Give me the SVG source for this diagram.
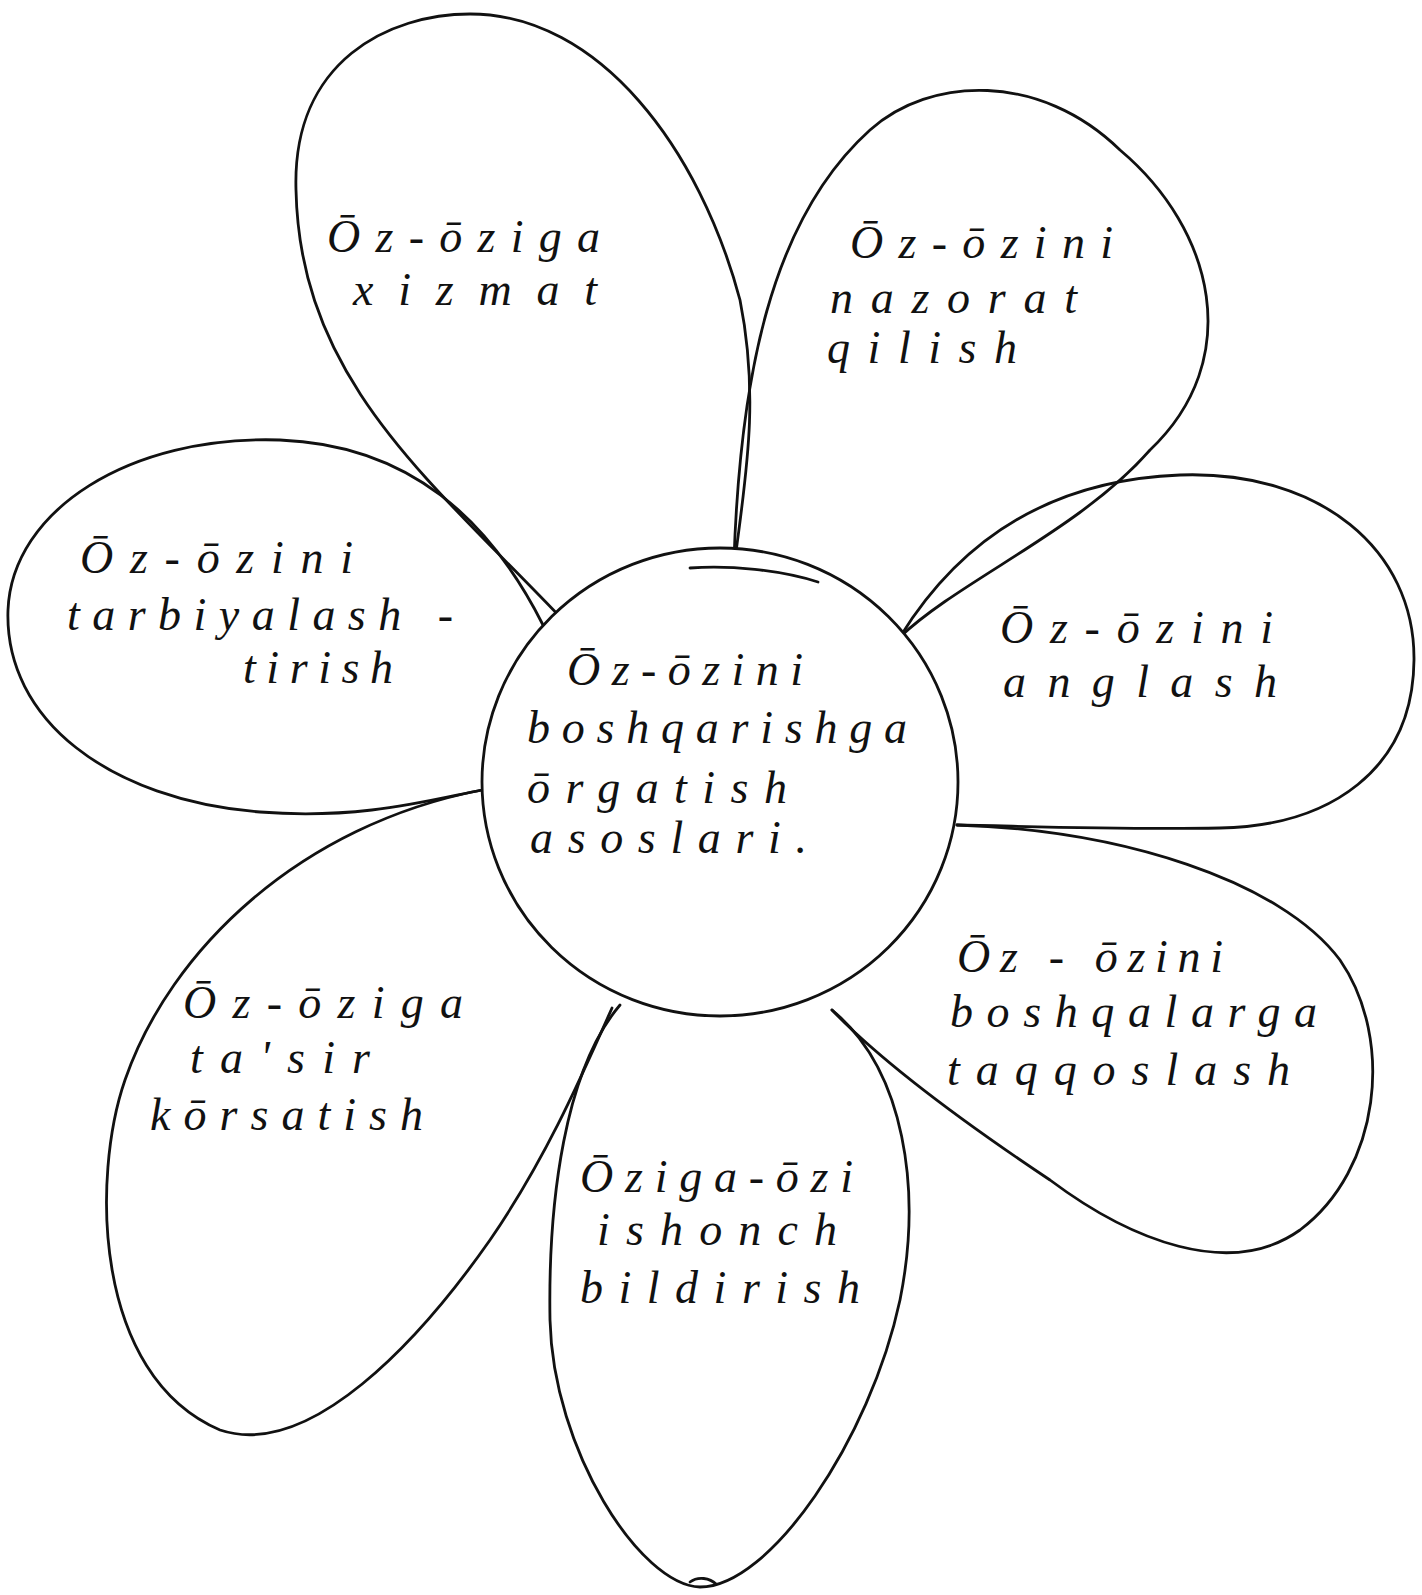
<svg xmlns="http://www.w3.org/2000/svg" width="1422" height="1595" viewBox="0 0 1422 1595">
<style>
.o{fill:none;stroke:#111;stroke-width:2.8;stroke-linecap:round;stroke-linejoin:round}
.c{fill:#fff;stroke:#111;stroke-width:2.8}
.t{font-family:"Liberation Serif","DejaVu Serif",serif;font-style:italic;font-size:46px;fill:#111}
</style>
<rect width="1422" height="1595" fill="#fff"/>
<g id="connectors"></g>
<g id="petal-xizmat">
<path class="o" d="M 563,620 C 430,480 300,380 296,190 C 292,60 390,14 470,14 C 600,14 700,150 740,300 C 760,400 745,480 735,560"/>
<text class="t" x="327" y="252" textLength="273" lengthAdjust="spacing">Ōz-ōziga</text>
<text class="t" x="353" y="305" textLength="244" lengthAdjust="spacing">xizmat</text>
</g>
<g id="petal-nazorat">
<path class="o" d="M 734,560 C 740,380 770,220 870,130 C 930,76 1040,72 1120,150 C 1215,230 1245,360 1150,450 C 1080,530 960,580 900,637"/>
<text class="t" x="850" y="258" textLength="263" lengthAdjust="spacing">Ōz-ōzini</text>
<text class="t" x="830" y="313" textLength="247" lengthAdjust="spacing">nazorat</text>
<text class="t" x="827" y="363" textLength="190" lengthAdjust="spacing">qilish</text>
</g>
<g id="petal-tarbiyalash">
<path class="o" d="M 543,625 C 490,520 410,445 280,440 C 130,435 12,510 8,610 C 4,720 110,800 260,812 C 360,820 430,800 482,790"/>
<text class="t" x="80" y="573" textLength="273" lengthAdjust="spacing">Ōz-ōzini</text>
<text class="t" x="67" y="630" textLength="386" lengthAdjust="spacing">tarbiyalash -</text>
<text class="t" x="243" y="683" textLength="150" lengthAdjust="spacing">tirish</text>
</g>
<g id="petal-anglash">
<path class="o" d="M 900,637 C 960,540 1050,480 1180,475 C 1320,470 1415,550 1414,660 C 1413,770 1330,826 1220,828 C 1120,830 1020,826 957,825"/>
<text class="t" x="1000" y="643" textLength="273" lengthAdjust="spacing">Ōz-ōzini</text>
<text class="t" x="1003" y="697" textLength="274" lengthAdjust="spacing">anglash</text>
</g>
<g id="petal-taqqoslash">
<path class="o" d="M 957,825 C 1120,830 1280,880 1340,960 C 1395,1040 1380,1170 1300,1230 C 1230,1280 1130,1240 1050,1180 C 960,1120 880,1060 832,1010"/>
<text class="t" x="957" y="972" textLength="266" lengthAdjust="spacing">Ōz - ōzini</text>
<text class="t" x="950" y="1027" textLength="367" lengthAdjust="spacing">boshqalarga</text>
<text class="t" x="947" y="1085" textLength="343" lengthAdjust="spacing">taqqoslash</text>
</g>
<g id="petal-ishonch">
<path class="o" d="M 620,1005 C 565,1070 548,1200 550,1320 C 553,1450 640,1585 700,1587 C 770,1587 870,1440 900,1300 C 922,1190 905,1070 832,1010"/>
<path class="o" d="M 690,1582 C 698,1576 710,1578 716,1584"/>
<text class="t" x="580" y="1192" textLength="273" lengthAdjust="spacing">Ōziga-ōzi</text>
<text class="t" x="597" y="1245" textLength="240" lengthAdjust="spacing">ishonch</text>
<text class="t" x="580" y="1303" textLength="280" lengthAdjust="spacing">bildirish</text>
</g>
<g id="petal-tasir">
<path class="o" d="M 482,790 C 300,825 170,950 125,1080 C 92,1175 92,1375 220,1430 C 310,1460 420,1340 490,1240 C 545,1160 580,1080 612,1008"/>
<text class="t" x="183" y="1018" textLength="280" lengthAdjust="spacing">Ōz-ōziga</text>
<text class="t" x="190" y="1073" textLength="180" lengthAdjust="spacing">ta'sir</text>
<text class="t" x="150" y="1130" textLength="273" lengthAdjust="spacing">kōrsatish</text>
</g>
<g id="center">
<ellipse class="c" cx="720" cy="782" rx="238" ry="234"/>
<path class="o" d="M 690,568 C 730,565 780,570 818,582"/>
<text class="t" x="567" y="685" textLength="236" lengthAdjust="spacing">Ōz-ōzini</text>
<text class="t" x="527" y="743" textLength="380" lengthAdjust="spacing">boshqarishga</text>
<text class="t" x="527" y="803" textLength="260" lengthAdjust="spacing">ōrgatish</text>
<text class="t" x="530" y="853" textLength="277" lengthAdjust="spacing">asoslari.</text>
</g>
</svg>
